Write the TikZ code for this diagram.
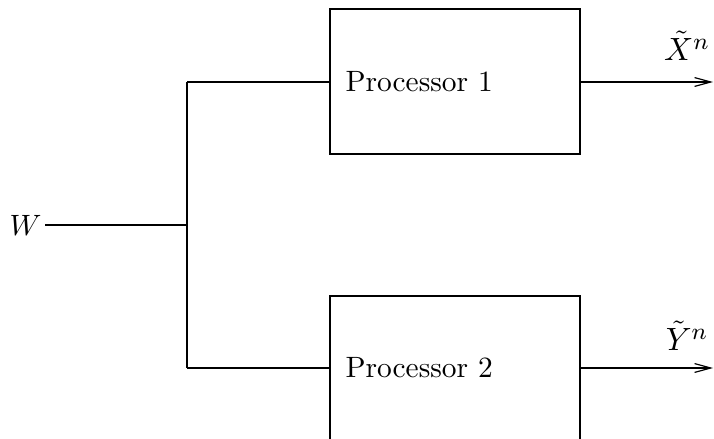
\documentclass[tikz,border=0pt]{standalone}
\usetikzlibrary{arrows.meta}
\begin{document}
\begin{tikzpicture}[x=0.34pt,y=-0.34pt,
  wire/.style={line width=0.4pt},
  procbox/.style={draw,line width=0.4pt,minimum width=250*0.34pt,minimum height=145*0.34pt,inner sep=0pt},
  outlabel/.style={inner sep=0pt,font=\fontsize{11}{13}\selectfont},
  outarrow/.style={wire,-{Straight Barb[length=5.5pt,width=3pt]}}]
\clip (0,0) rectangle (714,439);
\node[procbox] (p1) at (455,81.5) {};
\node[procbox] (p2) at (455,368.5) {};
\node[anchor=west,inner sep=0pt] (t1) at (345,82) {Processor 1};
\node[anchor=west,inner sep=0pt] (t2) at (345,368) {Processor 2};
\node[anchor=east,inner sep=1pt] (w) at (45,225) {$W$};
\coordinate (j) at (187,225);
\coordinate (ja) at (187,82);
\coordinate (jb) at (187,368);
\coordinate (o1) at (713,82);
\coordinate (o2) at (713,368);
\node[outlabel] (lx) at (687,46) {$\tilde{X}^n$};
\node[outlabel] (ly) at (687,336) {$\tilde{Y}^n$};
\draw[wire] (w.east) -- (j);
\draw[wire] (ja) -- (jb);
\draw[wire] (ja) -- (ja -| p1.west);
\draw[wire] (jb) -- (jb -| p2.west);
\draw[outarrow] (p1.east |- o1) -- (o1);
\draw[outarrow] (p2.east |- o2) -- (o2);
\end{tikzpicture}
\end{document}
